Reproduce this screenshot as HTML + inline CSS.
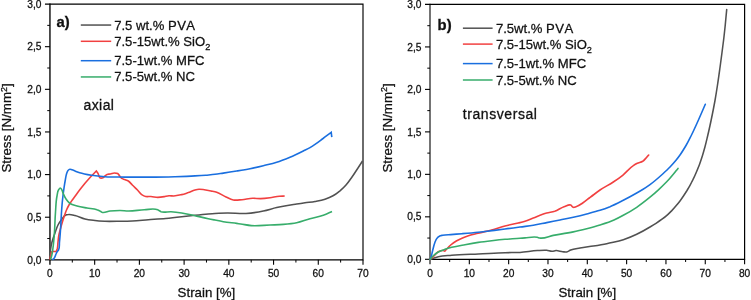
<!DOCTYPE html>
<html><head><meta charset="utf-8"><title>Stress-strain curves</title>
<style>
html,body{margin:0;padding:0;background:#fff;}
body{width:751px;height:300px;overflow:hidden;font-family:"Liberation Sans",sans-serif;}
svg{display:block;will-change:transform;}
text{font-family:"Liberation Sans",sans-serif;fill:#111;font-kerning:none;stroke:#111;stroke-width:0.27px;}
.tk{font-size:10.2px;}
.lg{font-size:13.1px;}
.ax{font-size:13.3px;}
.an{font-size:14px;stroke:#111;stroke-width:0.3px;}
.pl{font-size:14.8px;font-weight:bold;stroke:#111;stroke-width:0.3px;}
</style></head>
<body>
<svg width="751" height="300" viewBox="0 0 751 300">
<path d="M49.95 259.85H363.0V4.05H44.95" fill="none" stroke="#000" stroke-width="1.15"/>
<path d="M49.95 3.4749999999999996V264.85" fill="none" stroke="#000" stroke-width="1.35"/>
<path d="M44.95 259.85H49.95" stroke="#000" stroke-width="1.1"/>
<text x="41.5" y="263.50" text-anchor="end" class="tk">0,0</text>
<path d="M47.25 238.53H49.95" stroke="#000" stroke-width="1"/>
<path d="M44.95 217.22H49.95" stroke="#000" stroke-width="1.1"/>
<text x="41.5" y="220.87" text-anchor="end" class="tk">0,5</text>
<path d="M47.25 195.90H49.95" stroke="#000" stroke-width="1"/>
<path d="M44.95 174.58H49.95" stroke="#000" stroke-width="1.1"/>
<text x="41.5" y="178.23" text-anchor="end" class="tk">1,0</text>
<path d="M47.25 153.27H49.95" stroke="#000" stroke-width="1"/>
<path d="M44.95 131.95H49.95" stroke="#000" stroke-width="1.1"/>
<text x="41.5" y="135.60" text-anchor="end" class="tk">1,5</text>
<path d="M47.25 110.63H49.95" stroke="#000" stroke-width="1"/>
<path d="M44.95 89.32H49.95" stroke="#000" stroke-width="1.1"/>
<text x="41.5" y="92.97" text-anchor="end" class="tk">2,0</text>
<path d="M47.25 68.00H49.95" stroke="#000" stroke-width="1"/>
<path d="M44.95 46.68H49.95" stroke="#000" stroke-width="1.1"/>
<text x="41.5" y="50.33" text-anchor="end" class="tk">2,5</text>
<path d="M47.25 25.37H49.95" stroke="#000" stroke-width="1"/>
<text x="41.5" y="7.70" text-anchor="end" class="tk">3,0</text>
<text x="49.95" y="276.8" text-anchor="middle" class="tk">0</text>
<path d="M72.31 259.85V262.55" stroke="#000" stroke-width="1"/>
<path d="M94.67 259.85V264.85" stroke="#000" stroke-width="1.1"/>
<text x="94.67" y="276.8" text-anchor="middle" class="tk">10</text>
<path d="M117.03 259.85V262.55" stroke="#000" stroke-width="1"/>
<path d="M139.39 259.85V264.85" stroke="#000" stroke-width="1.1"/>
<text x="139.39" y="276.8" text-anchor="middle" class="tk">20</text>
<path d="M161.75 259.85V262.55" stroke="#000" stroke-width="1"/>
<path d="M184.11 259.85V264.85" stroke="#000" stroke-width="1.1"/>
<text x="184.11" y="276.8" text-anchor="middle" class="tk">30</text>
<path d="M206.48 259.85V262.55" stroke="#000" stroke-width="1"/>
<path d="M228.84 259.85V264.85" stroke="#000" stroke-width="1.1"/>
<text x="228.84" y="276.8" text-anchor="middle" class="tk">40</text>
<path d="M251.20 259.85V262.55" stroke="#000" stroke-width="1"/>
<path d="M273.56 259.85V264.85" stroke="#000" stroke-width="1.1"/>
<text x="273.56" y="276.8" text-anchor="middle" class="tk">50</text>
<path d="M295.92 259.85V262.55" stroke="#000" stroke-width="1"/>
<path d="M318.28 259.85V264.85" stroke="#000" stroke-width="1.1"/>
<text x="318.28" y="276.8" text-anchor="middle" class="tk">60</text>
<path d="M340.64 259.85V262.55" stroke="#000" stroke-width="1"/>
<path d="M363.00 259.85V264.85" stroke="#000" stroke-width="1.1"/>
<text x="363.00" y="276.8" text-anchor="middle" class="tk">70</text>
<path d="M430.0 259.3H744.6V4.45H425.0" fill="none" stroke="#000" stroke-width="1.2"/>
<path d="M430.0 3.85V264.3" fill="none" stroke="#000" stroke-width="1.1"/>
<path d="M425.0 259.30H430.0" stroke="#000" stroke-width="1.1"/>
<text x="421.5" y="262.95" text-anchor="end" class="tk">0,0</text>
<path d="M427.3 238.06H430.0" stroke="#000" stroke-width="1"/>
<path d="M425.0 216.83H430.0" stroke="#000" stroke-width="1.1"/>
<text x="421.5" y="220.48" text-anchor="end" class="tk">0,5</text>
<path d="M427.3 195.59H430.0" stroke="#000" stroke-width="1"/>
<path d="M425.0 174.35H430.0" stroke="#000" stroke-width="1.1"/>
<text x="421.5" y="178.00" text-anchor="end" class="tk">1,0</text>
<path d="M427.3 153.11H430.0" stroke="#000" stroke-width="1"/>
<path d="M425.0 131.88H430.0" stroke="#000" stroke-width="1.1"/>
<text x="421.5" y="135.53" text-anchor="end" class="tk">1,5</text>
<path d="M427.3 110.64H430.0" stroke="#000" stroke-width="1"/>
<path d="M425.0 89.40H430.0" stroke="#000" stroke-width="1.1"/>
<text x="421.5" y="93.05" text-anchor="end" class="tk">2,0</text>
<path d="M427.3 68.16H430.0" stroke="#000" stroke-width="1"/>
<path d="M425.0 46.93H430.0" stroke="#000" stroke-width="1.1"/>
<text x="421.5" y="50.58" text-anchor="end" class="tk">2,5</text>
<path d="M427.3 25.69H430.0" stroke="#000" stroke-width="1"/>
<text x="421.5" y="8.10" text-anchor="end" class="tk">3,0</text>
<text x="430.00" y="276.8" text-anchor="middle" class="tk">0</text>
<path d="M449.66 259.3V262.0" stroke="#000" stroke-width="1"/>
<path d="M469.32 259.3V264.3" stroke="#000" stroke-width="1.1"/>
<text x="469.32" y="276.8" text-anchor="middle" class="tk">10</text>
<path d="M488.99 259.3V262.0" stroke="#000" stroke-width="1"/>
<path d="M508.65 259.3V264.3" stroke="#000" stroke-width="1.1"/>
<text x="508.65" y="276.8" text-anchor="middle" class="tk">20</text>
<path d="M528.31 259.3V262.0" stroke="#000" stroke-width="1"/>
<path d="M547.98 259.3V264.3" stroke="#000" stroke-width="1.1"/>
<text x="547.98" y="276.8" text-anchor="middle" class="tk">30</text>
<path d="M567.64 259.3V262.0" stroke="#000" stroke-width="1"/>
<path d="M587.30 259.3V264.3" stroke="#000" stroke-width="1.1"/>
<text x="587.30" y="276.8" text-anchor="middle" class="tk">40</text>
<path d="M606.96 259.3V262.0" stroke="#000" stroke-width="1"/>
<path d="M626.62 259.3V264.3" stroke="#000" stroke-width="1.1"/>
<text x="626.62" y="276.8" text-anchor="middle" class="tk">50</text>
<path d="M646.29 259.3V262.0" stroke="#000" stroke-width="1"/>
<path d="M665.95 259.3V264.3" stroke="#000" stroke-width="1.1"/>
<text x="665.95" y="276.8" text-anchor="middle" class="tk">60</text>
<path d="M685.61 259.3V262.0" stroke="#000" stroke-width="1"/>
<path d="M705.27 259.3V264.3" stroke="#000" stroke-width="1.1"/>
<text x="705.27" y="276.8" text-anchor="middle" class="tk">70</text>
<path d="M724.94 259.3V262.0" stroke="#000" stroke-width="1"/>
<path d="M744.60 259.3V264.3" stroke="#000" stroke-width="1.1"/>
<text x="744.60" y="276.8" text-anchor="middle" class="tk">80</text>
<path d="M50.0 259.5C50.2 256.3 50.1 253.1 50.5 250.0C50.8 247.3 51.3 244.6 52.0 242.0C52.8 238.9 53.9 236.0 55.0 233.0C56.0 230.3 56.7 227.5 58.0 225.0C59.1 222.9 60.5 220.9 62.0 219.0C62.9 217.8 63.7 216.3 65.0 215.5C66.0 214.9 67.3 214.6 68.5 214.5C70.6 214.2 72.9 215.0 75.0 215.5C78.4 216.3 81.6 218.2 85.0 219.0C88.3 219.8 91.7 220.1 95.0 220.5C98.3 220.9 101.7 221.1 105.0 221.3C110.0 221.5 115.0 221.3 120.0 221.2C124.1 221.2 128.2 221.2 132.3 221.0C137.6 220.8 143.0 220.1 148.3 219.7C154.1 219.3 159.9 219.0 165.7 218.5C171.0 218.0 176.4 217.4 181.7 216.8C186.1 216.3 190.6 215.8 195.0 215.3C199.4 214.8 203.9 214.3 208.3 213.9C210.5 213.7 212.8 213.5 215.0 213.4C219.1 213.2 223.2 213.0 227.3 213.0C233.5 212.9 239.8 213.9 246.0 213.5C251.8 213.1 257.6 212.2 263.3 211.0C267.8 210.1 272.2 208.6 276.7 207.6C278.9 207.1 281.1 206.6 283.3 206.2C287.7 205.3 292.2 204.7 296.7 204.0C299.5 203.6 302.2 203.2 305.0 202.8C308.3 202.3 311.7 202.0 315.0 201.4C318.4 200.8 321.8 200.3 325.0 199.2C327.7 198.3 330.5 197.2 333.0 195.8C335.5 194.4 337.8 192.6 340.0 190.8C342.1 189.0 344.2 187.1 346.0 185.0C348.2 182.5 350.1 179.7 352.0 177.0C354.1 174.1 356.0 171.0 358.0 168.0C359.5 165.7 361.0 163.3 362.5 161.0" fill="none" stroke="#515151" stroke-width="1.55" stroke-linejoin="miter" stroke-linecap="butt"/>
<path d="M50.0 259.6C50.3 258.1 50.5 256.5 50.8 255.0C51.1 253.9 51.0 252.4 51.7 251.7C52.6 250.8 55.3 252.1 56.2 251.2C56.8 250.6 57.0 249.4 57.3 248.5C57.9 246.4 57.7 244.2 58.0 242.0C58.3 239.5 58.5 237.0 59.0 234.5C59.6 231.3 60.6 228.1 61.5 225.0C62.3 222.3 63.1 219.6 64.0 217.0C64.8 214.7 65.5 212.3 66.5 210.0C67.2 208.3 68.1 206.6 69.0 205.0C70.0 203.3 71.2 201.6 72.3 200.0C73.5 198.3 74.8 196.7 76.0 195.0C77.3 193.2 78.6 191.4 80.0 189.6C81.6 187.5 83.3 185.4 85.0 183.3C86.8 181.2 88.6 179.1 90.5 177.0C92.4 175.0 94.4 173.0 96.3 171.0C96.9 171.8 97.5 172.5 98.0 173.3C98.9 174.8 98.8 177.6 100.3 178.0C100.9 178.2 101.7 178.1 102.3 178.0C104.2 177.7 105.2 175.0 107.0 174.4C108.0 174.1 109.2 174.2 110.3 174.0C111.7 173.8 113.0 173.0 114.3 173.0C115.4 173.0 116.8 173.0 117.7 173.5C118.6 174.0 119.0 175.2 119.7 176.0C120.1 176.6 120.5 177.2 121.0 177.7C121.7 178.4 122.8 178.8 123.7 179.3C125.2 180.0 126.9 180.2 128.3 181.0C129.9 182.0 131.0 183.7 132.3 185.0C134.1 186.8 135.9 188.5 137.7 190.3C139.1 191.7 140.1 193.5 141.7 194.6C142.9 195.4 144.3 196.2 145.7 196.5C147.4 196.9 149.2 196.4 151.0 196.5C153.2 196.6 155.5 197.4 157.7 197.4C159.9 197.4 162.1 197.0 164.3 196.6C165.9 196.3 167.4 195.8 169.0 195.7C170.6 195.6 172.1 196.0 173.7 196.0C176.4 195.9 179.1 195.2 181.7 194.6C183.9 194.1 186.1 193.3 188.3 192.6C190.6 191.8 192.7 190.6 195.0 190.0C196.3 189.7 197.7 189.4 199.0 189.3C200.8 189.2 202.5 189.5 204.3 189.7C206.6 190.0 208.8 190.5 211.0 191.0C212.9 191.4 214.9 191.7 216.7 192.3C220.0 193.4 222.8 195.6 226.0 197.0C228.4 198.1 230.8 199.5 233.3 200.0C236.1 200.5 239.1 199.9 242.0 199.7C245.6 199.4 249.1 198.4 252.7 198.3C255.4 198.2 258.0 198.7 260.7 198.6C263.8 198.5 266.9 198.1 270.0 197.7C273.1 197.3 276.2 196.6 279.3 196.3C281.1 196.1 282.9 196.1 284.7 196.0" fill="none" stroke="#F14040" stroke-width="1.6" stroke-linejoin="miter" stroke-linecap="butt"/>
<path d="M52.0 259.6C52.5 259.4 53.1 259.3 53.5 259.0C55.0 258.1 55.2 255.7 56.0 254.0C56.3 253.3 56.6 252.6 57.0 252.0C57.4 251.3 58.1 250.7 58.5 250.0C59.8 247.7 59.2 244.7 59.5 242.0C59.8 239.3 60.0 236.7 60.2 234.0C60.9 225.3 61.1 216.7 61.8 208.0C62.0 205.3 62.2 202.7 62.5 200.0C62.9 196.0 63.4 192.0 64.0 188.0C64.4 185.3 64.8 182.7 65.3 180.0C65.7 178.0 65.9 175.9 66.5 174.0C66.9 172.8 67.2 171.4 68.0 170.5C68.5 170.0 69.1 169.4 69.7 169.3C70.4 169.1 71.2 169.6 72.0 169.8C73.0 170.1 74.0 170.6 75.0 171.0C76.6 171.6 78.1 172.2 79.7 172.7C83.6 173.9 87.7 174.6 91.7 175.3C96.1 176.0 100.6 176.4 105.0 176.7C111.6 177.2 118.3 177.0 125.0 177.1C131.7 177.2 138.3 177.1 145.0 177.1C148.3 177.1 151.7 177.1 155.0 177.1C161.7 177.1 168.3 176.9 175.0 176.7C181.7 176.5 188.3 176.3 195.0 175.9C198.6 175.7 202.1 175.5 205.7 175.2C208.8 174.9 211.9 174.7 215.0 174.3C217.8 174.0 220.5 173.5 223.3 173.1C227.8 172.4 232.2 171.7 236.7 171.0C241.1 170.3 245.6 169.6 250.0 168.7C254.5 167.8 258.9 166.8 263.3 165.7C267.8 164.6 272.3 163.7 276.7 162.3C281.2 160.9 285.6 159.1 290.0 157.3C294.5 155.4 298.9 153.2 303.3 151.0C305.5 149.9 307.8 148.9 310.0 147.6C311.7 146.6 313.4 145.5 315.0 144.4C317.7 142.5 320.3 140.5 323.0 138.5C325.7 136.4 328.5 134.4 331.2 132.3L331.8 137.2" fill="none" stroke="#1A6FDF" stroke-width="1.6" stroke-linejoin="miter" stroke-linecap="butt"/>
<path d="M50.6 259.5C51.1 257.4 51.8 255.4 52.2 253.3C52.5 251.7 52.7 250.1 52.9 248.5C53.5 244.3 53.8 240.2 54.2 236.0C54.9 228.0 54.9 220.0 55.5 212.0C55.9 206.7 55.9 201.2 57.0 196.0C57.4 194.0 57.4 191.7 58.5 190.0C59.0 189.3 59.6 188.0 60.2 188.0C60.7 188.0 61.3 188.9 61.7 189.5C62.4 190.5 62.5 191.9 63.0 193.0C63.9 195.1 64.7 197.2 66.0 199.0C67.1 200.6 68.4 202.4 70.0 203.5C72.0 204.9 74.6 205.3 77.0 206.0C80.3 206.9 83.7 207.4 87.0 208.0C90.3 208.6 93.9 208.5 97.0 209.7C98.2 210.1 99.4 210.6 100.5 211.3C101.0 211.6 101.5 212.0 102.0 212.3C104.3 213.4 107.3 211.3 110.0 211.0C113.3 210.6 116.7 210.5 120.0 210.5C122.8 210.5 125.5 211.0 128.3 211.0C133.6 211.1 139.0 209.9 144.3 209.7C148.8 209.6 153.7 208.1 157.7 209.8C158.8 210.3 159.9 211.2 161.0 211.7C164.0 212.9 167.7 211.5 171.0 211.7C174.6 211.9 178.2 212.4 181.7 213.0C186.2 213.7 190.6 214.8 195.0 215.7C199.4 216.7 203.8 217.8 208.3 218.7C210.5 219.2 212.8 219.6 215.0 220.0C217.8 220.6 220.5 221.2 223.3 221.7C227.7 222.5 232.2 222.8 236.7 223.4C238.0 223.6 239.4 223.8 240.7 224.0C244.2 224.5 247.8 225.3 251.3 225.6C257.5 226.1 263.8 225.2 270.0 225.0C274.4 224.8 278.9 224.8 283.3 224.4C287.8 224.0 292.3 223.6 296.7 222.7C301.2 221.7 305.5 219.9 310.0 218.7C314.4 217.5 319.0 216.8 323.3 215.3C326.3 214.2 329.1 212.8 332.0 211.5" fill="none" stroke="#37AD6B" stroke-width="1.6" stroke-linejoin="miter" stroke-linecap="butt"/>
<path d="M430.0 259.3C432.8 258.4 435.5 257.3 438.3 256.7C442.7 255.7 447.2 255.7 451.7 255.3C460.5 254.5 469.4 254.4 478.3 254.0C487.2 253.6 496.1 253.0 505.0 252.7C510.0 252.5 515.0 252.7 520.0 252.4C525.8 252.1 531.5 250.9 537.3 250.6C540.4 250.4 543.6 250.0 546.7 250.3C548.5 250.5 550.2 251.3 552.0 251.3C553.3 251.3 554.7 250.7 556.0 250.6C558.2 250.5 560.5 251.5 562.7 251.7C564.0 251.8 565.4 252.2 566.7 252.0C568.1 251.7 569.3 250.6 570.7 250.0C573.6 248.8 576.9 248.6 580.0 248.0C584.4 247.2 588.9 246.7 593.3 246.0C597.8 245.3 602.3 244.6 606.7 243.7C608.9 243.3 611.1 242.8 613.3 242.3C616.7 241.5 620.0 240.7 623.3 239.7C627.9 238.2 632.4 236.4 636.7 234.3C641.3 232.1 645.7 229.6 650.0 227.0C652.0 225.8 654.0 224.6 656.0 223.3C658.0 222.0 660.1 220.6 662.0 219.2C664.1 217.7 666.1 216.0 668.0 214.3C669.4 213.1 670.7 211.7 672.0 210.4C673.6 208.7 675.2 206.8 676.7 205.0C677.8 203.7 678.9 202.3 680.0 200.9C681.2 199.4 682.2 197.8 683.3 196.2C684.6 194.3 685.8 192.4 687.0 190.5C688.0 188.8 689.0 187.1 690.0 185.3C690.9 183.6 691.8 181.9 692.7 180.2C693.9 177.8 695.0 175.4 696.0 173.0C697.4 169.7 698.8 166.4 700.0 163.0C700.9 160.5 701.7 158.0 702.5 155.5C703.4 152.6 704.2 149.7 705.0 146.8C705.9 143.4 706.7 139.9 707.5 136.5C708.4 132.8 709.2 129.2 710.0 125.5C710.9 121.5 711.7 117.5 712.5 113.5C713.4 109.2 714.2 104.8 715.0 100.5C715.9 95.3 716.7 90.2 717.5 85.0C718.4 79.2 719.2 73.3 720.0 67.5C720.7 62.5 721.3 57.5 722.0 52.5C722.5 48.3 723.1 44.2 723.6 40.0C724.2 35.2 724.7 30.3 725.2 25.5C725.7 20.2 726.2 14.9 726.7 9.6" fill="none" stroke="#515151" stroke-width="1.55" stroke-linejoin="round" stroke-linecap="round"/>
<path d="M430.0 259.3C431.3 258.2 432.7 257.2 434.0 256.0C435.5 254.6 436.6 252.6 438.3 251.7C439.7 251.0 441.4 250.3 443.0 250.5C443.7 250.6 444.5 251.4 445.0 251.1C445.3 250.9 445.5 250.4 445.8 250.0C446.3 249.4 446.9 248.8 447.5 248.2C448.5 247.1 449.6 246.0 450.7 245.0C452.4 243.5 454.3 242.2 456.3 241.0C458.1 239.9 460.1 239.0 462.0 238.2C463.9 237.4 465.8 236.7 467.7 236.0C471.1 234.8 474.6 234.1 478.0 233.2C482.5 232.0 487.2 231.2 491.7 230.0C496.2 228.8 500.5 227.2 505.0 226.0C509.4 224.8 513.9 224.1 518.3 223.0C520.5 222.5 522.8 222.0 525.0 221.3C527.8 220.4 530.5 219.1 533.3 218.0C537.7 216.3 542.1 214.2 546.7 213.0C549.3 212.3 552.1 212.1 554.7 211.3C558.0 210.2 560.7 207.8 564.0 206.7C566.2 206.0 568.8 204.2 570.7 205.0C571.7 205.4 572.3 207.1 573.3 207.3C574.1 207.5 575.1 207.0 576.0 206.7C578.4 206.0 580.6 204.4 582.7 203.0C585.0 201.5 587.1 199.7 589.3 198.0C590.6 197.0 592.0 196.0 593.3 195.0C595.5 193.3 597.7 191.6 600.0 190.0C604.2 187.1 609.0 184.9 613.3 182.0C616.5 179.9 619.7 177.7 622.7 175.3C626.4 172.3 629.3 168.3 633.3 165.7C634.6 164.8 635.9 164.0 637.3 163.3C639.0 162.5 641.1 162.3 642.7 161.3C644.2 160.3 645.4 158.7 646.7 157.3C647.4 156.6 648.0 155.8 648.7 155.0" fill="none" stroke="#F14040" stroke-width="1.6" stroke-linejoin="round" stroke-linecap="round"/>
<path d="M430.3 259.3C430.6 258.4 430.9 257.4 431.2 256.5C431.8 254.6 432.1 252.6 432.6 250.7C433.3 248.0 433.8 245.3 434.8 242.7C435.4 241.2 435.9 239.4 437.0 238.2C437.6 237.4 438.4 236.7 439.3 236.2C440.3 235.6 441.6 235.5 442.7 235.3C445.3 234.8 448.0 234.8 450.7 234.6C454.5 234.3 458.2 234.0 462.0 233.7C467.3 233.3 472.7 232.9 478.0 232.3C480.3 232.1 482.7 231.8 485.0 231.5C491.7 230.7 498.3 229.9 505.0 229.0C510.0 228.4 515.0 227.7 520.0 227.0C524.4 226.4 528.9 226.0 533.3 225.3C537.8 224.6 542.2 223.5 546.7 222.6C551.1 221.7 555.6 220.9 560.0 220.0C564.4 219.1 568.9 218.3 573.3 217.3C577.8 216.3 582.3 215.2 586.7 214.0C591.2 212.8 595.6 211.7 600.0 210.3C603.4 209.2 606.7 208.0 610.0 206.7C614.5 204.8 618.9 202.5 623.3 200.3C627.8 198.0 632.3 195.5 636.7 193.0C638.7 191.9 640.7 190.7 642.7 189.5C645.2 188.0 647.6 186.3 650.0 184.6C654.5 181.4 658.6 177.7 662.7 174.0C665.2 171.7 667.7 169.4 670.0 167.0C672.1 164.8 674.1 162.6 676.0 160.3C677.4 158.6 678.7 156.8 680.0 155.0C682.2 151.9 684.1 148.7 686.0 145.5C688.0 142.1 689.7 138.5 691.5 135.0C693.8 130.4 695.9 125.7 698.0 121.0C700.5 115.5 702.9 109.9 705.3 104.3" fill="none" stroke="#1A6FDF" stroke-width="1.6" stroke-linejoin="round" stroke-linecap="round"/>
<path d="M430.0 259.3C431.0 258.2 431.9 257.0 433.0 256.0C434.6 254.5 436.4 253.1 438.3 252.0C440.4 250.8 442.7 250.1 445.0 249.3C447.2 248.5 449.4 247.9 451.7 247.3C456.1 246.2 460.6 245.5 465.0 244.7C469.4 243.9 473.9 243.1 478.3 242.4C482.8 241.7 487.2 241.2 491.7 240.7C496.1 240.2 500.6 239.7 505.0 239.3C510.0 238.9 515.0 238.7 520.0 238.3C521.7 238.2 523.3 238.0 525.0 237.9C529.1 237.6 533.3 236.4 537.3 237.3C538.1 237.5 538.9 237.8 539.7 238.0C544.1 239.0 548.8 236.2 553.3 235.4C560.0 234.2 566.7 233.3 573.3 231.9C577.8 231.0 582.3 229.9 586.7 228.8C591.2 227.6 595.6 226.4 600.0 225.0C604.7 223.5 609.5 222.0 614.0 220.0C617.2 218.6 620.2 217.0 623.3 215.3C627.9 212.8 632.4 210.2 636.7 207.3C641.3 204.2 645.7 200.7 650.0 197.2C653.0 194.8 655.9 192.2 658.7 189.6C661.4 187.1 664.1 184.5 666.7 181.8C669.0 179.4 671.2 176.9 673.3 174.3C674.9 172.4 676.4 170.4 678.0 168.4" fill="none" stroke="#37AD6B" stroke-width="1.6" stroke-linejoin="round" stroke-linecap="round"/>
<path d="M80.8 25.05H111.2" stroke="#515151" stroke-width="1.5"/>
<text x="114.2" y="30.0" class="lg">7.5 wt.% <tspan letter-spacing="0.4">PVA</tspan></text>
<path d="M80.8 41.3H111.2" stroke="#F14040" stroke-width="1.5"/>
<text x="114.2" y="45.8" class="lg">7.5-15wt.% SiO<tspan dy="3.8" font-size="9.2">2</tspan></text>
<path d="M80.8 60.7H111.2" stroke="#1A6FDF" stroke-width="1.5"/>
<text x="114.2" y="65.4" class="lg">7.5-1wt.% MFC</text>
<path d="M80.8 76.95H111.2" stroke="#37AD6B" stroke-width="1.5"/>
<text x="114.2" y="81.3" class="lg">7.5-5wt.% NC</text>
<path d="M462.9 28.2H492.6" stroke="#515151" stroke-width="1.5"/>
<text x="495.9" y="33.0" class="lg">7.5wt.% <tspan letter-spacing="0.4">PVA</tspan></text>
<path d="M462.9 44.1H492.6" stroke="#F14040" stroke-width="1.5"/>
<text x="495.9" y="48.8" class="lg">7.5-15wt.% SiO<tspan dy="3.8" font-size="9.2">2</tspan></text>
<path d="M462.9 63.6H492.6" stroke="#1A6FDF" stroke-width="1.5"/>
<text x="495.9" y="68.2" class="lg">7.5-1wt.% MFC</text>
<path d="M462.9 80.0H492.6" stroke="#37AD6B" stroke-width="1.5"/>
<text x="495.9" y="84.6" class="lg">7.5-5wt.% NC</text>
<text x="56.6" y="26.6" class="pl">a)</text>
<text x="437.6" y="30.1" class="pl">b)</text>
<text x="83.4" y="110.2" class="an" style="letter-spacing:0.45px">axial</text>
<text x="462.8" y="118.6" class="an" style="letter-spacing:0.57px">transversal</text>
<text x="206.4" y="297.3" text-anchor="middle" class="ax">Strain [%]</text>
<text x="587.3" y="297.3" text-anchor="middle" class="ax">Strain [%]</text>
<text transform="translate(11.2 127.9) rotate(-90)" text-anchor="middle" class="ax">Stress [N/mm<tspan dy="-4.6" font-size="9">2</tspan><tspan dy="4.6">]</tspan></text>
<text transform="translate(392.0 127.9) rotate(-90)" text-anchor="middle" class="ax">Stress [N/mm<tspan dy="-4.6" font-size="9">2</tspan><tspan dy="4.6">]</tspan></text>
</svg>
</body></html>
